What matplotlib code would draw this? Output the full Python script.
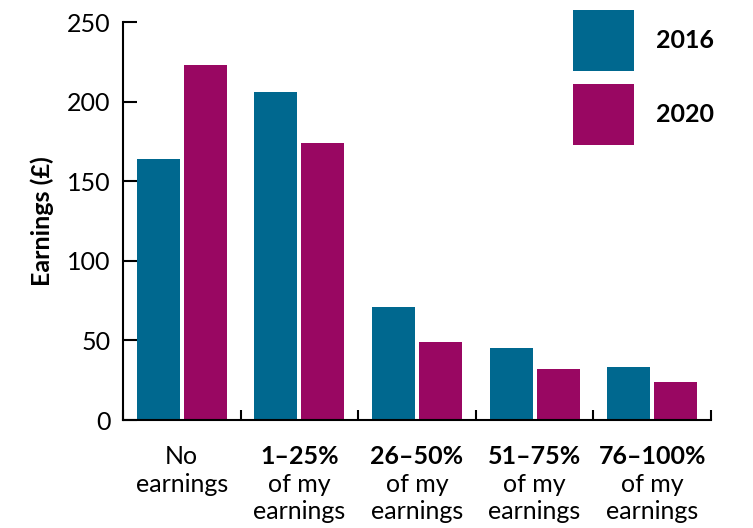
import matplotlib
matplotlib.use("Agg")
import matplotlib.pyplot as plt
import numpy as np

plt.rcParams['font.family'] = ['Lato', 'DejaVu Sans']

# data
headers = ["No", "1–25%", "26–50%", "51–75%", "76–100%"]
header_bold = [False, True, True, True, True]
subtexts = ["earnings", "of my\nearnings", "of my\nearnings", "of my\nearnings", "of my\nearnings"]
vals_2016 = [164, 206, 71, 45, 33]
vals_2020 = [223, 174, 49, 32, 24]
series_names = ["2016", "2020"]
colors = ["#00688f", "#990762"]

fs = 18
fig = plt.figure(figsize=(7.53, 5.28), dpi=100)
ax = fig.add_axes([123 / 753, 1 - 420 / 528, (711 - 123) / 753, (420 - 22) / 528])

x = np.arange(len(headers))
w = 0.365
b1 = ax.bar(x - 0.2, vals_2016, width=w, color=colors[0], label=series_names[0])
b2 = ax.bar(x + 0.2, vals_2020, width=w, color=colors[1], label=series_names[1])

ax.set_xlim(-0.5, len(headers) - 0.5)
ax.set_ylim(0, 250)
ax.set_yticks([0, 50, 100, 150, 200, 250])
ax.tick_params(axis='y', direction='in', length=10, width=1.5, pad=9, labelsize=fs)
ax.set_xticks(np.arange(-0.5, len(headers)), minor=True)
ax.set_xticks([])
ax.tick_params(axis='x', which='minor', direction='in', length=7, width=1.5)
for s in ['top', 'right']:
    ax.spines[s].set_visible(False)
for s in ['left', 'bottom']:
    ax.spines[s].set_linewidth(1.5)

ax.set_ylabel("Earnings (£)", fontsize=fs, fontweight='bold', labelpad=9)

# category labels: first line (bold for ranges), rest normal
for i in range(len(headers)):
    ax.annotate(headers[i], xy=(i, 0), xycoords=('data', 'axes fraction'),
                xytext=(0, -26.5), textcoords='offset points',
                ha='center', va='center', fontsize=fs,
                fontweight='bold' if header_bold[i] else 'normal')
    ax.annotate(subtexts[i], xy=(i, 0), xycoords=('data', 'axes fraction'),
                xytext=(0, -38), textcoords='offset points',
                ha='center', va='top', fontsize=fs, linespacing=1.2)

leg = fig.legend(handles=[b1, b2], loc='upper right',
                 bbox_to_anchor=(714 / 753, 1 - 10 / 528),
                 frameon=False, prop={'weight': 'bold', 'size': fs},
                 handlelength=2.44, handleheight=3.38, handletextpad=0.88,
                 labelspacing=0.52, borderpad=0, borderaxespad=0)

fig.savefig("out.png", dpi=100)
